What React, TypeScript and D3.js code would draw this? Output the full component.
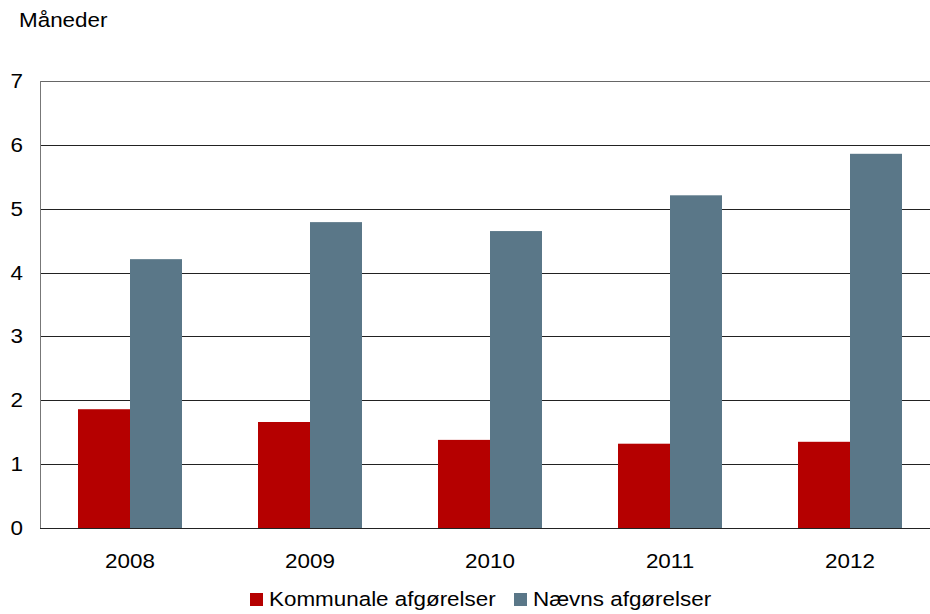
import React from "react";
import * as d3 from "d3";

const years = ["2008", "2009", "2010", "2011", "2012"];
const kommunale = [1.86, 1.66, 1.38, 1.32, 1.35];
const naevns = [4.21, 4.79, 4.65, 5.21, 5.86];
const yTicks = [0, 1, 2, 3, 4, 5, 6, 7];
const seriesNames = ["Kommunale afgørelser", "Nævns afgørelser"];
const colors = ["#B50000", "#5A7788"];

const W = 930, H = 614;
const left = 40, right = 940, top = 81, bottom = 528;
const FS = 19.5, SX = 1.15;
const font = "'Liberation Sans', Arial, sans-serif";

function T({ x, y, anchor = "start", children }: any) {
  return (
    <text transform={`translate(${x},${y}) scale(${SX},1)`} textAnchor={anchor}
      fontFamily={font} fontSize={FS} fill="#000">{children}</text>
  );
}

export default function App() {
  const x = d3.scaleBand().domain(years).range([left, right]);
  const y = d3.scaleLinear().domain([0, 7]).range([bottom, top]);
  const barW = 52;
  const series = [kommunale, naevns];
  return (
    <svg width={W} height={H} style={{ position: "absolute", left: 0, top: 0 }}>
      <rect width={W} height={H} fill="#fff" />
      {yTicks.filter(t => t > 0).map(t => (
        <line key={t} x1={left} x2={right} y1={Math.round(y(t)) + 0.5} y2={Math.round(y(t)) + 0.5}
          stroke={t === 7 ? "#666" : "#222"} strokeWidth={1} />
      ))}
      {years.map((yr, i) => {
        const c = (x(yr) as number) + x.bandwidth() / 2;
        return series.map((s, j) => (
          <rect key={yr + j} x={c - barW + j * barW} width={barW}
            y={y(s[i])} height={y(0) - y(s[i])} fill={colors[j]} />
        ));
      })}
      <line x1={left + 0.5} x2={left + 0.5} y1={top} y2={bottom} stroke="#777" />
      <line x1={left} x2={right} y1={bottom + 0.5} y2={bottom + 0.5} stroke="#222" />
      {yTicks.map(t => (
        <T key={t} x={23} y={y(t) + 7} anchor="end">{t}</T>
      ))}
      {years.map(yr => (
        <T key={yr} x={(x(yr) as number) + x.bandwidth() / 2} y={568} anchor="middle">{yr}</T>
      ))}
      <T x={19} y={27}>Måneder</T>
      <rect x={250} y={593} width={13} height={13} fill={colors[0]} />
      <T x={269} y={606}>{seriesNames[0]}</T>
      <rect x={514} y={593} width={13} height={13} fill={colors[1]} />
      <T x={533} y={606}>{seriesNames[1]}</T>
    </svg>
  );
}
